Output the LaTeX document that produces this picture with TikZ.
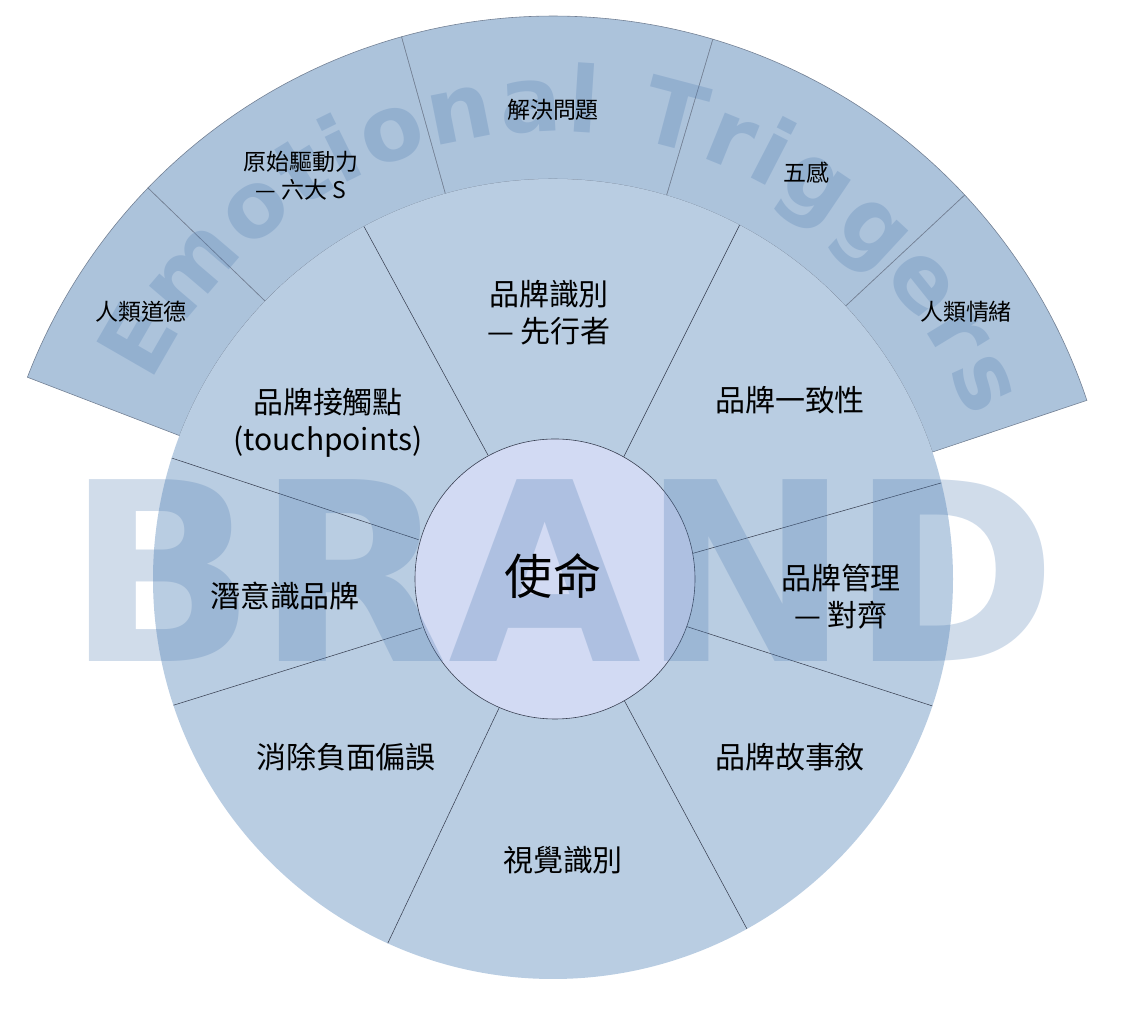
\documentclass[tikz,border=0pt]{standalone}
\usepackage{fontspec}
\setmainfont{Noto Sans CJK TC}
\newfontfamily\wmfont{DejaVu Sans}
\usetikzlibrary{decorations.text}
\definecolor{wheelfill}{RGB}{185,205,226}
\definecolor{ringfill}{RGB}{172,195,219}
\definecolor{corefill}{RGB}{210,218,243}
\definecolor{edgeline}{RGB}{55,62,80}
\definecolor{ringline}{RGB}{115,128,148}
\definecolor{wmark}{RGB}{80,125,178}
\begin{document}
\begin{tikzpicture}[x=0.3mm,y=0.3mm,
  ringseg/.style={fill=ringfill, draw=ringline, line width=0.5pt},
  divider/.style={draw=edgeline, line width=0.45pt},
  corestyle/.style={fill=corefill, draw=edgeline, line width=0.5pt},
  wlbl/.style={font=\fontsize{25.6}{31.6}\selectfont, align=center, text=black, inner sep=0pt},
  olbl/.style={font=\fontsize{19.6}{24}\selectfont, align=center, text=black, inner sep=0pt},
]
\useasboundingbox (0,0) rectangle (1125,1030);
\begin{scope}[shift={(553,451)}]
  % outer ring segments
  \foreach \a/\b in {159/136,136/105.6,105.6/73.5,73.5/43,43/18.5}{
    \draw[ringseg] (\a:400) -- (\a:563) arc[start angle=\a, end angle=\b, radius=563]
      -- (\b:400) arc[start angle=\b, end angle=\a, radius=400] -- cycle;
  }
  % wheel
  \fill[wheelfill] (0,0) circle[radius=400];
  \foreach \i/\o in {117.7/118.2, 59.9/62.2, 10.3/13.9, -19.6/-18.5, -59.6/-61, 247.3/245.6, 200.4/198.4, 163.7/162.4}{
    \draw[divider] (\i:140) -- (\o:400);
  }
  % core
  \draw[corestyle] (2,0) circle[radius=140];
  % curved watermark
  \begin{scope}[opacity=0.27]
    \path[decorate, decoration={text along path,
      text={|\wmfont\bfseries\fontsize{78}{78}\selectfont\color{wmark}|Emotional Triggers},
      text align={fit to path}}]
      (154:447) arc[start angle=154, end angle=21, radius=447];
  \end{scope}
\end{scope}
% BRAND watermark
\node[opacity=0.27, text opacity=0.27, text=wmark, font=\wmfont\bfseries\fontsize{213}{213}\selectfont, inner sep=0pt] (brand) at (562,459) {BRAND};
% outer labels
\node[olbl] (o1) at (141,718) {人類道德};
\node[olbl] (o2) at (301,854) {原始驅動力\\— 六大 S};
\node[olbl] (o3) at (553,920) {解決問題};
\node[olbl] (o4) at (806,857) {五感};
\node[olbl] (o5) at (966,718) {人類情緒};
% wheel labels
\node[wlbl] (w1) at (549,717) {品牌識別\\— 先行者};
\node[wlbl] (w2) at (328,607) {品牌接觸點\\(touchpoints)};
\node[wlbl] (w3) at (790,630) {品牌一致性};
\node[wlbl] (w4) at (285,434) {潛意識品牌};
\node[wlbl] (w5) at (841,433) {品牌管理\\— 對齊};
\node[wlbl] (w6) at (346,273) {消除負面偏誤};
\node[wlbl] (w7) at (790,273) {品牌故事敘};
\node[wlbl] (w8) at (563,170) {視覺識別};
% core label
\node[font=\fontsize{41}{41}\selectfont, inner sep=0pt] (core) at (553,454) {使命};
\end{tikzpicture}
\end{document}
